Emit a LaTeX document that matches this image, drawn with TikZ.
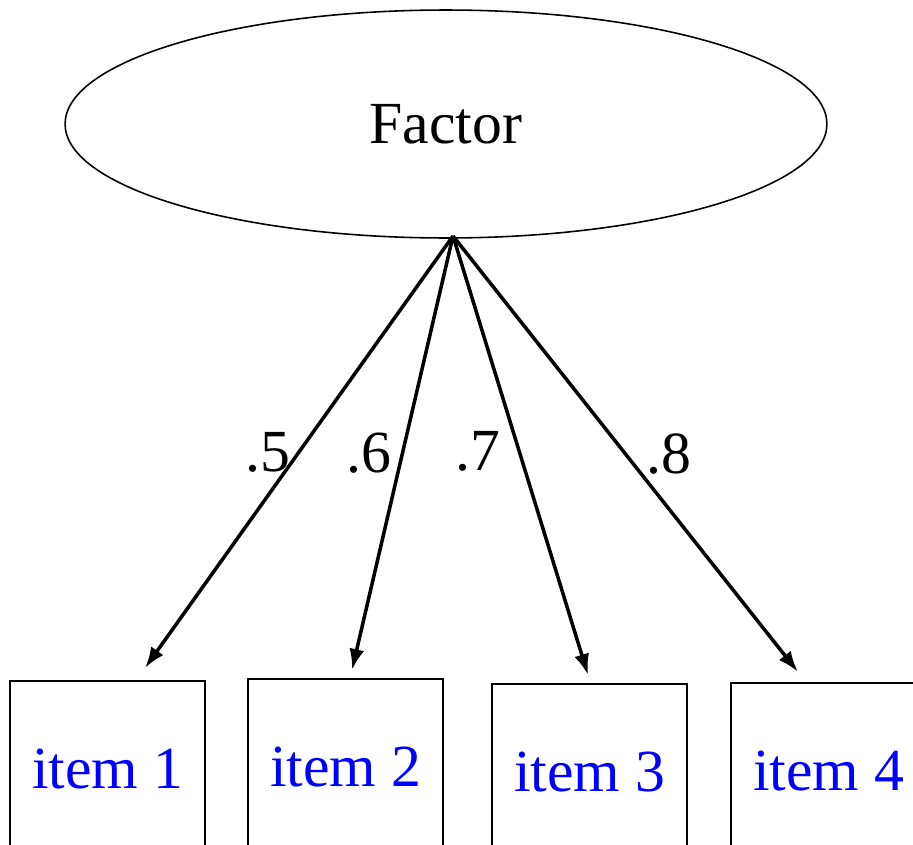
\documentclass[tikz,border=0pt]{standalone}
\usepackage{fontspec}
\setmainfont{Liberation Serif}
\usetikzlibrary{positioning,arrows.meta,shapes.geometric,calc}
\definecolor{itemblue}{RGB}{0,0,255}
\tikzset{
  factor/.style={ellipse, draw, line width=0.9pt, minimum width=15.24cm,
                 minimum height=4.56cm, inner sep=0pt, font=\fontsize{34}{40}\selectfont},
  itembox/.style={rectangle, draw, line width=1.2pt, minimum width=3.9cm,
                  minimum height=3.5cm, anchor=north, inner sep=0pt,
                  text=itemblue, font=\fontsize{34}{40}\selectfont},
  loading/.style={-{Latex[length=0.42cm,width=0.3cm]}, line width=2pt},
  weight/.style={font=\fontsize{34}{40}\selectfont, inner sep=1pt}
}
\begin{document}
\begin{tikzpicture}[x=0.02cm,y=-0.02cm]
  \useasboundingbox (0,0) rectangle (913,845);
  % latent factor
  \node[factor] (fac) at (446,124) {Factor};
  \coordinate (src) at (453,236);

  % indicators
  \node[itembox] (item1) at (107.5,680) {item 1};
  \node[itembox] (item2) at (345.5,678) {item 2};
  \node[itembox] (item3) at (589.5,683) {item 3};
  \node[itembox] (item4) at (828.5,682) {item 4};

  % loadings
  \draw[loading] (src) -- ($(item1.north)+(37.5,-12)$)
    node[weight, pos=0.5, anchor=east, xshift=-0.1cm] {.5};
  \draw[loading] (src) -- ($(item2.north)+(6.5,-8)$)
    node[weight, pos=0.5, anchor=east, xshift=-0.15cm] {.6};
  \draw[loading] (src) -- ($(item3.north)+(-1.5,-8)$)
    node[weight, pos=0.49, anchor=east, xshift=-0.3cm] {.7};
  \draw[loading] (src) -- ($(item4.north)+(-30.5,-10)$)
    node[weight, pos=0.5, anchor=west, xshift=0.35cm] {.8};
\end{tikzpicture}
\end{document}
